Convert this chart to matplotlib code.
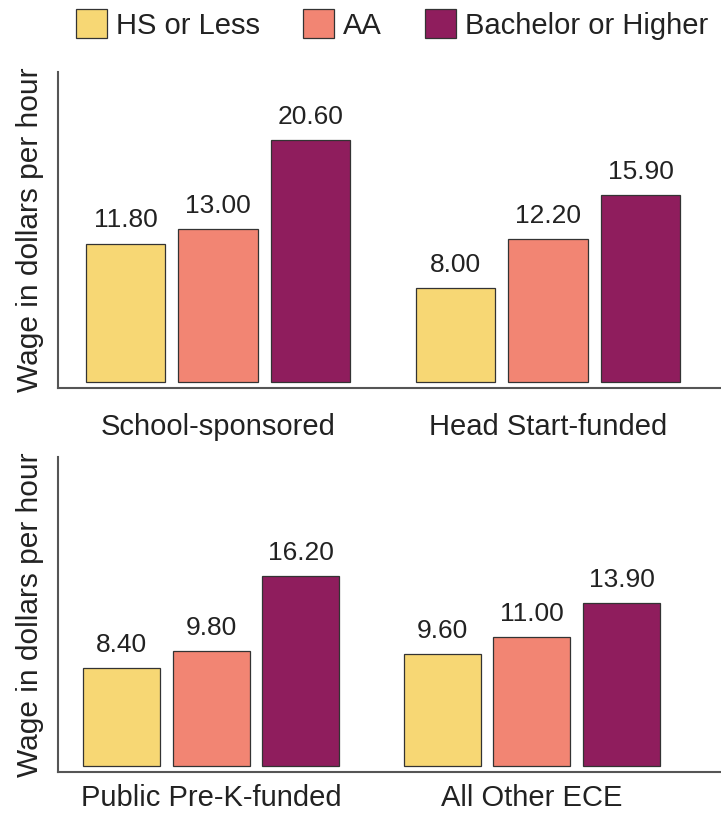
import numpy as np
import matplotlib.pyplot as plt
from matplotlib.patches import Patch

# hourly wages by highest degree, for each ECE setting
levels = ['HS or Less', 'AA', 'Bachelor or Higher']
colors = ['#F7D774', '#F28573', '#8F1D5D']

top_groups = ['School-sponsored', 'Head Start-funded']
top_wages = {'HS or Less': [11.80, 8.00],
             'AA': [13.00, 12.20],
             'Bachelor or Higher': [20.60, 15.90]}

bottom_groups = ['Public Pre-K-funded', 'All Other ECE']
bottom_wages = {'HS or Less': [8.40, 9.60],
                'AA': [9.80, 11.00],
                'Bachelor or Higher': [16.20, 13.90]}

plt.rcParams['font.family'] = ['Liberation Sans', 'DejaVu Sans']

fig = plt.figure(figsize=(7.21, 8.14), dpi=100)
ax1 = fig.add_axes([0.0804, 0.5233, 0.9196, 0.3882])
ax2 = fig.add_axes([0.0804, 0.0516, 0.9196, 0.3870])

width = 0.24
step = 0.28


def draw_panel(ax, groups, wages, xlim, pad):
    x = np.arange(len(groups))
    for i, lev in enumerate(levels):
        bars = ax.bar(x + (i - 1) * step, wages[lev], width, color=colors[i],
                      edgecolor='#333333', linewidth=0.9, label=lev)
        ax.bar_label(bars, fmt='%.2f', padding=8, fontsize=19, color='#222222')
    ax.set_xticks(x)
    ax.set_xticklabels(groups, fontsize=21, color='#222222')
    ax.tick_params(axis='x', length=0, pad=pad)
    ax.set_yticks([])
    ax.set_xlim(*xlim)
    ax.set_ylim(-0.5, 26.4)
    for s in ['top', 'right']:
        ax.spines[s].set_visible(False)
    for s in ['left', 'bottom']:
        ax.spines[s].set_color('#555555')
        ax.spines[s].set_linewidth(1.5)
    ax.set_ylabel('Wage in dollars per hour', fontsize=21.5, color='#222222', labelpad=10)


draw_panel(ax1, top_groups, top_wages, (-0.485, 1.524), 18)
draw_panel(ax2, bottom_groups, bottom_wages, (-0.477, 1.589), 8.5)

handles = [Patch(facecolor=c, edgecolor='#333333', linewidth=0.9) for c in colors]
fig.legend(handles, levels, loc='upper right', bbox_to_anchor=(0.998, 1.003), ncol=3,
           frameon=False, prop={'size': 21},
           handlelength=1.05, handleheight=1.15, handletextpad=0.3,
           columnspacing=1.5, borderaxespad=0.0, labelcolor='#222222')

fig.savefig('out.png', dpi=100)
